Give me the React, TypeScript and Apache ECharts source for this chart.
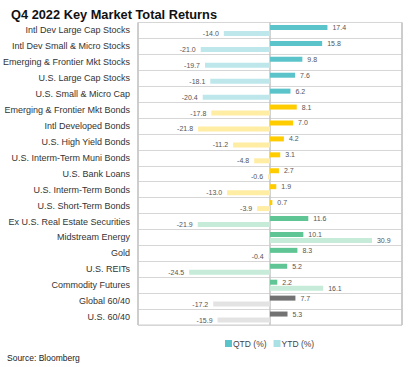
import React, { useEffect, useRef } from "react";
import * as echarts from "echarts";

const categories = [
  "Intl Dev Large Cap Stocks",
  "Intl Dev Small & Micro Stocks",
  "Emerging & Frontier Mkt Stocks",
  "U.S. Large Cap Stocks",
  "U.S. Small & Micro Cap",
  "Emerging & Frontier Mkt Bonds",
  "Intl Developed Bonds",
  "U.S. High Yield Bonds",
  "U.S. Interm-Term Muni Bonds",
  "U.S. Bank Loans",
  "U.S. Interm-Term Bonds",
  "U.S. Short-Term Bonds",
  "Ex U.S. Real Estate Securities",
  "Midstream Energy",
  "Gold",
  "U.S. REITs",
  "Commodity Futures",
  "Global 60/40",
  "U.S. 60/40",
];
const qtd = [17.4, 15.8, 9.8, 7.6, 6.2, 8.1, 7.0, 4.2, 3.1, 2.7, 1.9, 0.7, 11.6, 10.1, 8.3, 5.2, 2.2, 7.7, 5.3];
const ytd = [-14.0, -21.0, -19.7, -18.1, -20.4, -17.8, -21.8, -11.2, -4.8, -0.6, -13.0, -3.9, -21.9, 30.9, -0.4, -24.5, 16.1, -17.2, -15.9];
const groups = [
  "stock", "stock", "stock", "stock", "stock",
  "bond", "bond", "bond", "bond", "bond", "bond", "bond",
  "real", "real", "real", "real", "real",
  "mix", "mix",
];
const qtdColors: Record<string, string> = {
  stock: "#5bc4cb",
  bond: "#ffcc00",
  real: "#5fc595",
  mix: "#727272",
};
const ytdColors: Record<string, string> = {
  stock: "#bde7eb",
  bond: "#ffeda3",
  real: "#c6ebd8",
  mix: "#e3e3e3",
};

const SANS = "'Liberation Sans', Arial, sans-serif";

function makeData(values: number[], colors: Record<string, string>) {
  return values.map((v, i) => ({
    value: v,
    itemStyle: { color: colors[groups[i]] },
    label: { position: v < 0 ? "left" : "right" },
  }));
}

export default function App() {
  const ref = useRef<HTMLDivElement>(null);
  useEffect(() => {
    if (!ref.current) return;
    const chart = echarts.init(ref.current, undefined, { renderer: "svg" });
    const labelCfg = {
      show: true,
      distance: 5,
      fontFamily: SANS,
      fontSize: 7,
      color: "#555",
      formatter: (p: any) => Number(p.value).toFixed(1),
    };
    chart.setOption({
      animation: false,
      title: {
        text: "Q4 2022 Key Market Total Returns",
        left: 6,
        top: 3,
        textStyle: { fontFamily: SANS, fontSize: 12.8, fontWeight: "bold", color: "#111" },
      },
      graphic: [
        {
          type: "text",
          left: 7,
          top: 353,
          style: { text: "Source: Bloomberg", fontFamily: SANS, fontSize: 8.5, fill: "#222" },
        },
      ],
      legend: {
        data: ["QTD (%)", "YTD (%)"],
        left: 220,
        top: 334,
        icon: "rect",
        itemWidth: 7,
        itemHeight: 7,
        itemGap: 7,
        textStyle: { fontFamily: SANS, fontSize: 8.5, color: "#444", padding: [0, 0, 0, -4] },
      },
      grid: {
        left: 138,
        right: 6,
        top: 22.5,
        bottom: 42,
        show: true,
        borderColor: "#cfcfcf",
        borderWidth: 1,
      },
      xAxis: {
        type: "value",
        min: -40,
        max: 40,
        interval: 40,
        axisLabel: { show: false },
        axisLine: { show: false },
        axisTick: { show: false },
        splitLine: { show: true, lineStyle: { color: "#c4c4c4", width: 1.5 } },
      },
      yAxis: {
        type: "category",
        inverse: true,
        data: categories,
        axisLine: { show: false },
        axisTick: { show: false },
        axisLabel: { fontFamily: SANS, fontSize: 9, color: "#333", margin: 8 },
        splitLine: { show: true, interval: 0, lineStyle: { color: "#d6d6d6", width: 1 } },
      },
      series: [
        {
          name: "QTD (%)",
          type: "bar",
          barWidth: 5,
          barGap: "20%",
          itemStyle: { color: "#5bc4cb" },
          label: labelCfg,
          data: makeData(qtd, qtdColors),
        },
        {
          name: "YTD (%)",
          type: "bar",
          barWidth: 5,
          barGap: "20%",
          itemStyle: { color: "#a9e1e5" },
          label: labelCfg,
          data: makeData(ytd, ytdColors),
        },
      ],
    });
    return () => chart.dispose();
  }, []);
  return (
    <div
      ref={ref}
      style={{ position: "absolute", left: 0, top: 0, width: 408, height: 367 }}
    />
  );
}
